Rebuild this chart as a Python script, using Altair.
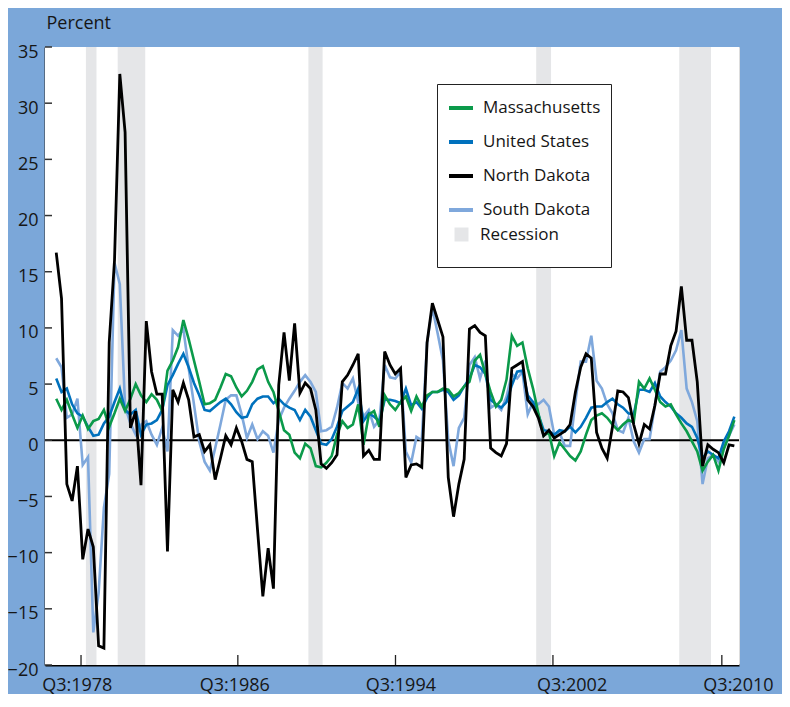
import altair as alt
import pandas as pd

# ---------------- data ----------------
start_year = 1978.5   # Q3:1978, quarterly observations
step = 0.25

massachusetts = [
    3.7, 2.7, 3.6, 2.3, 1.1, 2.2, 1.0, 1.7, 1.9, 2.7,
    1.2, 2.4, 3.7, 2.6, 3.7, 5.0, 4.0, 3.4, 4.1, 3.6,
    2.6, 6.2, 7.1, 8.3, 10.7, 9.0, 7.1, 5.2, 3.2, 3.3,
    3.6, 4.7, 5.9, 5.7, 4.7, 3.9, 4.4, 5.2, 6.3, 6.6,
    5.2, 4.3, 2.6, 0.9, 0.5, -1.1, -1.6, -0.3, -0.7, -2.3,
    -2.4, -2.0, -1.4, 0.5, 1.7, 1.1, 1.4, 3.2, -0.4, 2.3,
    2.6, 1.2, 4.0, 3.2, 2.7, 3.4, 3.9, 2.6, 3.9, 3.0,
    4.0, 4.3, 4.3, 4.6, 4.5, 3.9, 4.2, 4.8, 5.2, 7.1,
    7.6, 5.9, 4.3, 3.0, 3.6, 5.4, 9.3, 8.4, 8.7, 6.4,
    4.6, 2.4, 0.4, 0.7, -1.4, -0.2, -0.8, -1.4, -1.8, -1.0,
    0.5, 1.8, 2.2, 2.4, 2.0, 1.4, 0.9, 1.4, 1.8, 1.6,
    5.2, 4.6, 5.5, 4.5, 3.4, 3.0, 3.2, 2.3, 1.5, 0.8,
    -0.1, -1.0, -2.7, -1.9, -1.3, -2.7, -0.8, 0.4, 1.8,
]
united_states = [
    5.5, 4.3, 4.6, 3.2, 2.4, 2.1, 1.2, 0.4, 0.5, 1.5,
    2.1, 3.4, 4.6, 2.7, 2.3, 2.7, 0.5, 1.4, 1.5, 1.8,
    2.7, 4.9, 5.8, 6.8, 7.7, 6.5, 5.1, 4.0, 2.7, 2.6,
    3.0, 3.4, 3.7, 3.2, 2.5, 2.0, 2.1, 3.2, 3.7, 3.9,
    3.9, 3.3, 3.7, 3.2, 2.9, 2.7, 1.8, 2.7, 2.1, 0.9,
    -0.3, -0.4, 0.1, 1.2, 2.6, 3.0, 3.4, 4.6, 1.7, 2.4,
    2.1, 1.7, 3.6, 3.6, 3.5, 3.3, 4.6, 3.1, 3.4, 2.8,
    3.8, 4.3, 4.3, 4.5, 4.3, 3.6, 4.0, 4.8, 5.5, 6.7,
    6.5, 5.9, 3.6, 3.2, 2.9, 3.4, 4.9, 6.1, 6.2, 4.0,
    3.4, 2.3, 0.9, 0.8, 0.5, 0.9, 0.8, 1.2, 0.7, 1.2,
    2.0, 2.9, 3.0, 3.0, 3.4, 3.7, 3.2, 2.9, 2.4, 2.3,
    4.5, 4.5, 4.3, 5.1, 3.9, 3.4, 3.0, 2.4, 2.0, 1.5,
    1.2, 0.2, -1.6, -1.0, -1.3, -1.6, -0.1, 0.8, 2.1,
]
north_dakota = [
    16.7, 12.6, -3.9, -5.4, -2.3, -10.6, -7.9, -9.5, -18.3, -18.5,
    8.7, 16.0, 32.6, 27.4, 1.1, 2.6, -4.0, 10.6, 6.1, 4.1,
    4.1, -9.9, 4.5, 3.4, 5.1, 3.6, 0.3, 0.5, -1.0, -0.4,
    -3.5, -1.6, 0.4, -0.4, 1.1, -0.1, -1.7, -1.9, -8.0, -13.9,
    -9.6, -13.2, 4.9, 9.6, 5.3, 10.4, 4.2, 5.1, 4.6, 2.7,
    -2.1, -2.5, -2.0, -1.3, 5.2, 5.8, 6.7, 7.7, -1.4, -0.9,
    -1.7, -1.7, 7.9, 6.7, 5.9, 6.4, -3.3, -2.2, -2.1, -2.4,
    8.7, 12.2, 10.7, 9.2, -3.3, -6.8, -3.9, -1.7, 9.9, 10.2,
    9.6, 9.3, -0.7, -1.1, -1.4, -0.3, 6.4, 6.7, 7.0, 3.6,
    3.0, 2.0, 0.4, 0.9, 0.2, 0.5, 0.8, 1.4, 4.3, 6.5,
    7.7, 7.3, 0.7, -0.7, -1.6, 1.2, 4.4, 4.3, 3.8, 1.4,
    -0.3, 1.4, 1.0, 3.1, 5.9, 5.9, 8.4, 9.7, 13.7, 8.9,
    8.9, 5.2, -2.3, -0.4, -0.8, -1.1, -2.0, -0.4, -0.5,
]
south_dakota = [
    7.3, 6.5, 2.0, 2.3, 3.7, -2.2, -1.5, -17.1, -13.6, -6.0,
    -3.0, 15.8, 13.9, 3.0, 1.5, 0.5, 1.4, 1.7, 0.5, -0.4,
    1.1, -1.0, 9.8, 9.3, 9.9, 6.4, 3.2, -0.1, -1.9, -2.7,
    -0.7, 1.4, 3.6, 4.0, 4.0, 2.3, 0.2, 1.4, 0.1, 0.8,
    0.4, -1.1, 1.8, 2.9, 3.7, 4.4, 5.2, 5.8, 5.2, 4.3,
    0.8, 0.9, 1.2, 2.9, 5.1, 4.6, 5.5, 3.4, 2.1, 2.7,
    1.2, 1.8, 6.7, 5.6, 5.5, 6.1, -1.0, -2.0, 0.3, 0.0,
    8.7, 11.8, 9.5, 7.1, 0.0, -2.3, 1.1, 2.0, 6.7, 7.4,
    5.5, 7.1, 2.9, 3.2, 2.7, 3.9, 5.9, 5.5, 6.1, 2.3,
    3.4, 3.2, 3.6, 3.0, 0.5, 0.7, -0.5, -0.5, 3.4, 7.0,
    7.0, 9.3, 5.3, 4.6, 3.2, 2.4, 0.9, 0.7, 2.0, -0.1,
    -1.1, 0.1, 0.1, 3.1, 6.1, 6.5, 7.1, 8.0, 9.8, 4.6,
    3.4, 1.7, -3.9, -1.6, -1.3, -1.9, -0.5, 0.4, 1.4,
]

series_names = ["Massachusetts", "United States", "North Dakota", "South Dakota"]
series_values = [massachusetts, united_states, north_dakota, south_dakota]
series_colors = ["#0b9a4a", "#0071bd", "#000000", "#7fa8dc"]
recession_label = "Recession"
recession_color = "#e5e6e8"

recession_start = [1979.9, 1981.4, 1990.4, 2001.15, 2007.9]
recession_end = [1980.4, 1982.7, 1991.07, 2001.85, 2009.4]

x_tick_positions = [1979.67, 1987.07, 1994.51, 2001.94, 2009.91]
x_label_positions = [1979.47, 1986.90, 1994.74, 2002.82, 2010.67]
x_tick_labels = ["Q3:1978", "Q3:1986", "Q3:1994", "Q3:2002", "Q3:2010"]
y_ticks = [-20, -15, -10, -5, 0, 5, 10, 15, 20, 25, 30, 35]
y_title = "Percent"

# ---------------- tables ----------------
rows = []
for name, vals in zip(series_names, series_values):
    for i, v in enumerate(vals):
        rows.append({"t": start_year + i * step, "value": v, "series": name})
lines_df = pd.DataFrame(rows)

rec_df = pd.DataFrame({"start": recession_start, "end": recession_end,
                       "series": [recession_label] * len(recession_start)})
xt_df = pd.DataFrame({"t": x_tick_positions})
yt_df = pd.DataFrame({"v": y_ticks})
zero_df = pd.DataFrame({"v": [0]})

# ---------------- layout ----------------
W, H = 694, 618
FONT = "Open Sans"
TXT = "#161616"
BG = "#7ba7d9"

thresholds = [(a + b) / 2 for a, b in zip(x_label_positions[:-1], x_label_positions[1:])]
label_expr = "".join(f"datum.value < {th} ? '{lab}' : " for th, lab in zip(thresholds, x_tick_labels[:-1]))
label_expr += f"'{x_tick_labels[-1]}'"

x_scale = alt.Scale(domain=[1977.97, 2010.72], nice=False, zero=False)
y_scale = alt.Scale(domain=[-20, 35], nice=False, zero=False)

x_axis = alt.Axis(values=x_label_positions, labelExpr=label_expr, ticks=False, grid=False,
                  title=None, domainColor="#000000", domainWidth=2, labelFont=FONT,
                  labelFontSize=18, labelColor=TXT, labelPadding=11, labelFlush=False,
                  labelOverlap=False, labelBaseline="top")
y_axis = alt.Axis(values=y_ticks, ticks=False, grid=False, domainColor="#333333",
                  domainWidth=2, labelFont=FONT, labelFontSize=18, labelColor=TXT,
                  labelPadding=7, labelOffset=5, labelOverlap=False,
                  title=y_title, titleAngle=0, titleAlign="left", titleBaseline="alphabetic",
                  titleX=1, titleY=-19, titleFont=FONT, titleFontSize=18,
                  titleFontWeight="normal", titleColor=TXT)

# legend for the four lines: framed box; an invisible bottom title reserves room
# for the "Recession" entry that is drawn by a second legend inside the same box
lines_legend = alt.Legend(
    title="\u00a0" * 36, titleOrient="bottom", titleFontSize=22, titlePadding=18,
    titleLimit=600,
    orient="none", legendX=392, legendY=37, direction="vertical",
    fillColor="white", strokeColor="#222222", padding=10, rowPadding=12,
    symbolType="stroke", symbolSize=576, symbolStrokeWidth=4, symbolOpacity=1,
    labelFont=FONT, labelFontSize=17, labelColor=TXT, labelOffset=8, labelLimit=300,
    zindex=0,
)
rec_legend = alt.Legend(
    title=None, orient="none", legendX=408, legendY=179, direction="vertical",
    padding=0, symbolType="square", symbolSize=196, symbolStrokeWidth=0, symbolOpacity=1,
    labelFont=FONT, labelFontSize=17, labelColor=TXT, labelOffset=10, zindex=1,
)

color_enc = alt.Color("series:N",
                      scale=alt.Scale(domain=series_names, range=series_colors),
                      legend=lines_legend)

plot_bg = alt.Chart(zero_df).mark_rect(color="white").encode(
    x=alt.value(0), x2=alt.value(W), y=alt.value(0), y2=alt.value(H),
)

rec_layer = alt.Chart(rec_df).mark_rect().encode(
    x=alt.X("start:Q", scale=x_scale, axis=x_axis),
    x2="end:Q",
    y=alt.Y(datum=35, type="quantitative", scale=y_scale, axis=y_axis),
    y2=alt.datum(-20),
    fill=alt.Fill("series:N", scale=alt.Scale(domain=[recession_label], range=[recession_color]),
                  legend=rec_legend),
)

zero_layer = alt.Chart(zero_df).mark_rule(color="#000000", strokeWidth=2).encode(
    y=alt.Y("v:Q", scale=y_scale, axis=y_axis),
)

draw_order = ["South Dakota", "United States", "Massachusetts", "North Dakota"]
line_layers = []
for name in draw_order:
    line_layers.append(
        alt.Chart(lines_df).transform_filter(alt.datum.series == name)
        .mark_line(strokeWidth=2.8 if name == "North Dakota" else 2.6, strokeJoin="miter")
        .encode(
            x=alt.X("t:Q", scale=x_scale, axis=x_axis),
            y=alt.Y("value:Q", scale=y_scale, axis=y_axis),
            color=color_enc,
        )
    )

xtick_layer = alt.Chart(xt_df).mark_rule(color="#222222", strokeWidth=1.3).encode(
    x=alt.X("t:Q", scale=x_scale, axis=x_axis),
    y=alt.value(H), y2=alt.value(H - 10),
)
ytick_layer = alt.Chart(yt_df).mark_rule(color="#333333", strokeWidth=1.5).encode(
    y=alt.Y("v:Q", scale=y_scale, axis=y_axis),
    x=alt.value(0), x2=alt.value(7),
)

chart = alt.layer(plot_bg, rec_layer, zero_layer, *line_layers, xtick_layer, ytick_layer).properties(
    width=W, height=H,
    padding={"left": 37, "top": 39, "right": 43, "bottom": 29},
    autosize=alt.AutoSizeParams(type="none"),
    background=BG,
).configure_view(strokeWidth=0).configure(font=FONT)

chart.save("out.html", embed_options={"renderer": "svg", "actions": False})
